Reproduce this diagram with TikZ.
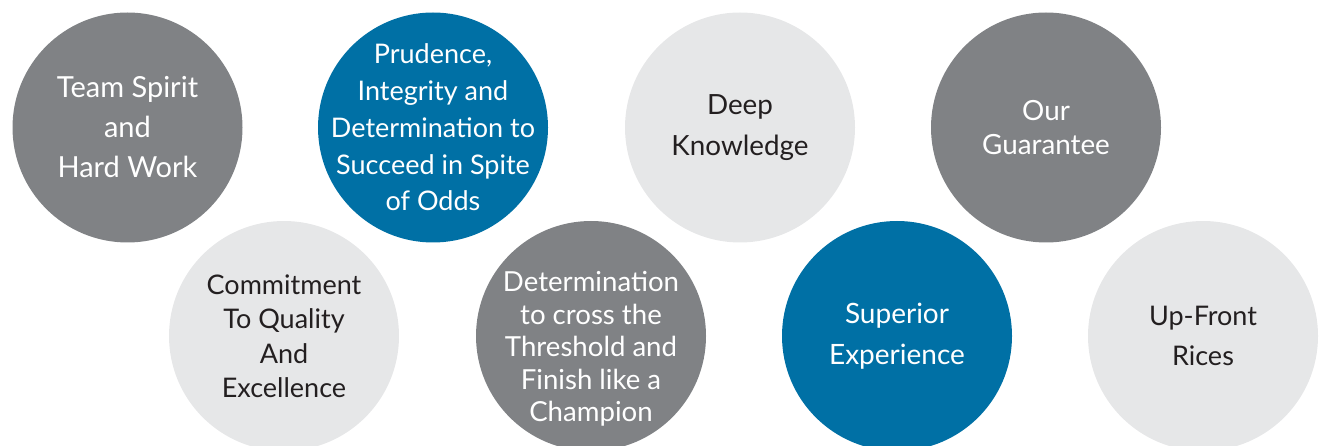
\documentclass[tikz,border=0pt]{standalone}
\usepackage{fontspec}
\setmainfont{Lato}
\definecolor{bubblegray}{RGB}{128,130,133}
\definecolor{bubbleblue}{RGB}{0,112,165}
\definecolor{bubblelight}{RGB}{230,231,232}
\definecolor{textdark}{RGB}{35,31,32}
\tikzset{bubble/.style={circle,minimum size=230pt,inner sep=0pt},
	dark/.style={bubble,fill=bubblegray},
	blue/.style={bubble,fill=bubbleblue},
	light/.style={bubble,fill=bubblelight},
	words/.style={align=center,inner sep=0pt},
	whitewords/.style={words,text=white},
	darkwords/.style={words,text=textdark}}
\newcommand{\fs}[2]{\fontsize{#1}{#2}\selectfont}

\begin{document}
\begin{tikzpicture}[x=1pt,y=-1pt]
	\useasboundingbox (0,0) rectangle (1324,446);
	% top row
	\node[dark] (team) at (127.5,127.5) {};
	\node[blue] (prudence) at (433,127.5) {};
	\node[light] (deep) at (740,127.5) {};
	\node[dark] (guarantee) at (1046,127.5) {};
	% bottom row
	\node[light] (commit) at (284,336) {};
	\node[dark] (finish) at (591,336) {};
	\node[blue] (superior) at (897,336) {};
	\node[light] (upfront) at (1203,336) {};
	% texts
	\node[whitewords,font=\fs{29}{40}] (team-txt) at (team) {Team Spirit\\and\\Hard Work};
	\node[whitewords,font=\fs{27}{36.7}] (prudence-txt) at (prudence) {Prudence,\\Integrity and\\Determination to\\Succeed in Spite\\of Odds};
	\node[darkwords,font=\fs{27.8}{41.7}] (deep-txt) at (deep) {Deep\\Knowledge};
	\node[whitewords,font=\fs{27.8}{33.3}] (guarantee-txt) at (guarantee) {Our\\Guarantee};
	\node[darkwords,font=\fs{27}{34.5}] (commit-txt) at (commit) {Commitment\\To Quality\\And\\Excellence};
	\node[whitewords,font=\fs{27.6}{32.5},yshift=-13pt] (finish-txt) at (finish) {Determination\\to cross the\\Threshold and\\Finish like a\\Champion};
	\node[whitewords,font=\fs{28}{40.7}] (superior-txt) at (superior) {Superior\\Experience};
	\node[darkwords,font=\fs{27}{40.7}] (upfront-txt) at (upfront) {Up-Front\\Rices};
\end{tikzpicture}
\end{document}
